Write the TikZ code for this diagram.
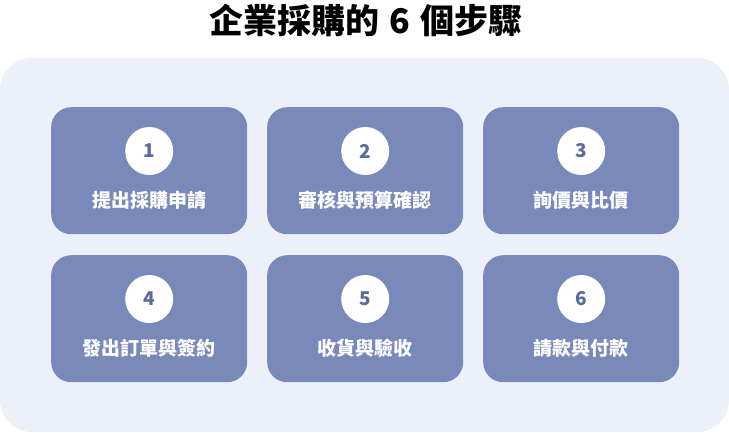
\documentclass[tikz,border=0pt]{standalone}
\usepackage{fontspec}
\usetikzlibrary{calc}
\newfontfamily\cjk{Noto Sans CJK TC}
\definecolor{bgpanel}{HTML}{ECF0F8}
\definecolor{boxfill}{HTML}{7889BA}
\definecolor{numcol}{HTML}{5C6B9C}
\tikzset{
  stepbox/.style={fill=boxfill, rounded corners=20pt, minimum width=196pt, minimum height=127pt, inner sep=0pt, anchor=north west},
  numcirc/.style={circle, fill=white, minimum size=48pt, inner sep=0pt, font=\cjk\bfseries\fontsize{19}{19}\selectfont, text=numcol},
  steplabel/.style={font=\cjk\bfseries\fontsize{19}{19}\selectfont, text=white, inner sep=0pt},
}
\begin{document}
\begin{tikzpicture}[x=1pt,y=-1pt]
\useasboundingbox (0,0) rectangle (729,432);
\node[font=\cjk\bfseries\fontsize{34}{34}\selectfont, inner sep=0pt] (title) at (366,20) {企業採購的\hspace{0.3em}6\hspace{0.3em}個步驟};
\fill[bgpanel, rounded corners=32pt] (0,58) rectangle (729,432);
\foreach \i/\c/\r/\t in {1/0/0/提出採購申請, 2/1/0/審核與預算確認, 3/2/0/詢價與比價, 4/0/1/發出訂單與簽約, 5/1/1/收貨與驗收, 6/2/1/請款與付款}{
  \node[stepbox] (box\i) at ({51+216*\c},{107+148*\r}) {};
  \node[numcirc] (num\i) at ($(box\i.north)+(0,44)$) {\i};
  \node[steplabel] (lab\i) at ($(box\i.north)+(0,93)$) {\t};
}
\end{tikzpicture}
\end{document}
